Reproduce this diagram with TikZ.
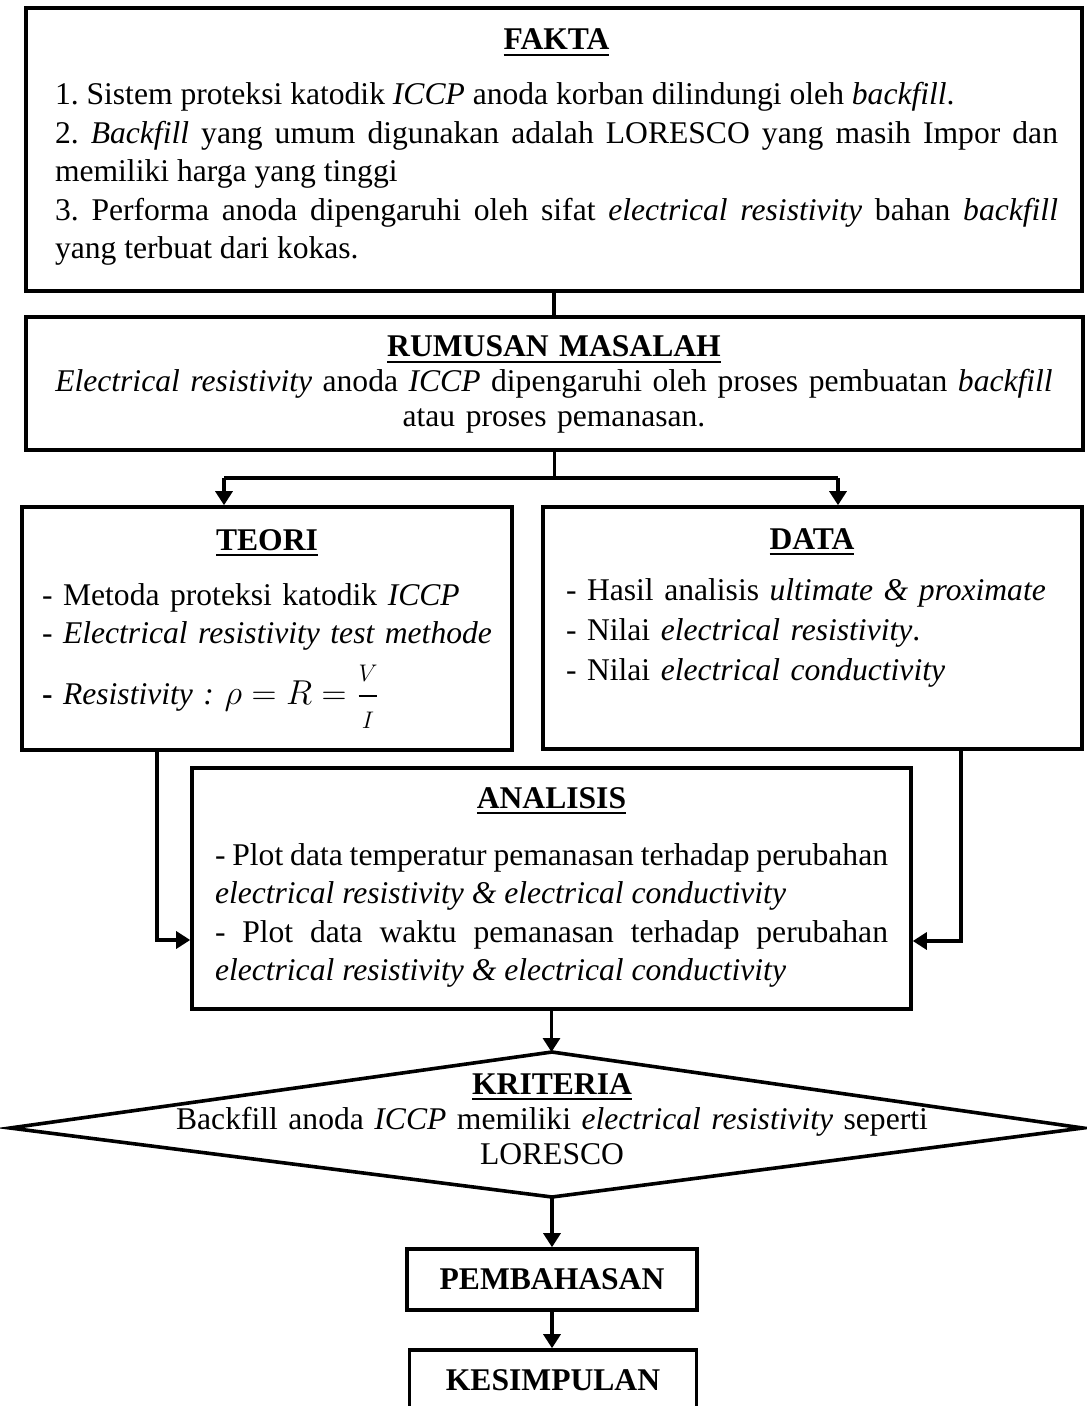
\documentclass[tikz,border=0pt]{standalone}
\usepackage{amsmath}
\usepackage{fontspec}
\setmainfont{Liberation Serif}
\usetikzlibrary{arrows.meta,calc}
\setlength{\parindent}{0pt}
\frenchspacing
\newcommand{\judul}[1]{\setbox0\hbox{\textbf{#1}}\rlap{\rule[-3pt]{\wd0}{1.2pt}}\box0}

\tikzset{
  kotak/.style={draw, line width=1.8pt, inner sep=0pt},
  isi/.style={anchor=base, inner sep=0pt, font=\fontsize{15.8}{19.25}\selectfont},
  garis/.style={line width=1.6pt},
  panah/.style={garis, -{Triangle[length=7pt,width=8.5pt]}}
}

\begin{document}
\begin{tikzpicture}[x=0.5pt,y=-0.5pt]
\useasboundingbox (0,0) rectangle (1086,1406);
% kotak
\node[kotak, minimum width=528pt, minimum height=141.5pt] (fakta) at (554,149.5) {};
\node[kotak, minimum width=528.5pt, minimum height=66.5pt] (rumusan) at (554.5,383.5) {};
\node[kotak, minimum width=245pt, minimum height=121.5pt] (teori) at (267,628.5) {};
\node[kotak, minimum width=269.5pt, minimum height=121pt] (data) at (812.5,628) {};
\node[kotak, minimum width=359.5pt, minimum height=120.5pt] (analisis) at (551.5,888.5) {};
\node[kotak, minimum width=145pt, minimum height=30.5pt, font=\fontsize{15.8}{18}\selectfont\bfseries] (bahas) at (552,1279.5) {PEMBAHASAN};
\node[kotak, minimum width=143.5pt, minimum height=30.5pt, font=\fontsize{15.8}{18}\selectfont\bfseries] (simpul) at (553,1380.5) {KESIMPULAN};
% belah ketupat
\coordinate (kAtas) at (552,1052);
\coordinate (kKiri) at (10,1128);
\coordinate (kKanan) at (1083,1128);
\coordinate (kBawah) at (552,1197);
\draw[line width=1.8pt] (kAtas) -- (kKanan) -- (kBawah) -- (kKiri) -- cycle;

% teks
\node[isi, text width=501.5pt, align=justify] (faktaT) at (556.5,50) {{\centering\judul{FAKTA}\par}\vskip 8.25pt
  1. Sistem proteksi katodik \textit{ICCP} anoda korban dilindungi oleh \textit{backfill}.\par
  2. \textit{Backfill} yang umum digunakan adalah LORESCO yang masih Impor dan\linebreak memiliki harga yang tinggi\par
  3. Performa anoda dipengaruhi oleh sifat \textit{electrical resistivity} bahan \textit{backfill}\linebreak yang terbuat dari kokas.};
\node[isi, font=\fontsize{15.8}{17.5}\selectfont, text width=515pt, align=center] (rumusanT) at (554,357) {\judul{RUMUSAN MASALAH}\\
  \textit{Electrical resistivity} anoda \textit{ICCP} dipengaruhi oleh proses pembuatan \textit{backfill}\\
  atau proses pemanasan.};
\node[isi, font=\fontsize{15.8}{19}\selectfont, text width=225pt, align=left] (teoriT) at (267,550) {{\centering\judul{TEORI}\par}\vskip 8.5pt
  - Metoda proteksi katodik \textit{ICCP}\\
  - \textit{Electrical resistivity test methode}\\[6.5pt]
  \textbf{-} \textit{Resistivity :} {\fontsize{18.5}{19}\selectfont$\rho = R = \genfrac{}{}{}{0}{\scriptstyle V}{\scriptstyle I}$}};
\node[isi, font=\fontsize{15.8}{20}\selectfont, text width=246pt, align=left] (dataT) at (812,549) {{\centering\judul{DATA}\par}\vskip 5.5pt
  - Hasil analisis \textit{ultimate \& proximate}\\
  - Nilai \textit{electrical resistivity}.\\
  - Nilai \textit{electrical conductivity}};
\node[isi, text width=336.5pt, align=justify] (analisisT) at (551.5,808) {{\centering\judul{ANALISIS}\par}\vskip 9.25pt
  - Plot data temperatur pemanasan terhadap perubahan\linebreak \textit{electrical resistivity \& electrical conductivity}\par
  - Plot data waktu pemanasan terhadap perubahan\linebreak \textit{electrical resistivity \& electrical conductivity}};
\node[isi, font=\fontsize{15.8}{17.5}\selectfont, text width=420pt, align=center] (kriteriaT) at (552,1094) {\judul{KRITERIA}\\
  Backfill anoda \textit{ICCP} memiliki \textit{electrical resistivity} seperti\\
  LORESCO};

% penghubung
\coordinate (cabang) at (552,478);
\coordinate (kiriA) at (224,478);
\coordinate (kananA) at (838,478);
\coordinate (masukKiri) at (157,940);
\coordinate (masukKanan) at (961,941);
\draw[garis] (fakta.south) -- (fakta.south |- rumusan.north);
\draw[garis] (rumusan.south) -- (rumusan.south |- cabang);
\draw[garis] (kiriA) -- (kananA);
\draw[panah] (kiriA) -- (kiriA |- teori.north);
\draw[panah] (kananA) -- (kananA |- data.north);
\draw[panah] (masukKiri |- teori.south) |- (analisis.west |- masukKiri);
\draw[panah] (masukKanan |- data.south) |- (analisis.east |- masukKanan);
\draw[panah] (analisis.south) -- (analisis.south |- kAtas);
\draw[panah] (kBawah) -- (bahas.north);
\draw[panah] (bahas.south) -- (bahas.south |- simpul.north);
\end{tikzpicture}
\end{document}
